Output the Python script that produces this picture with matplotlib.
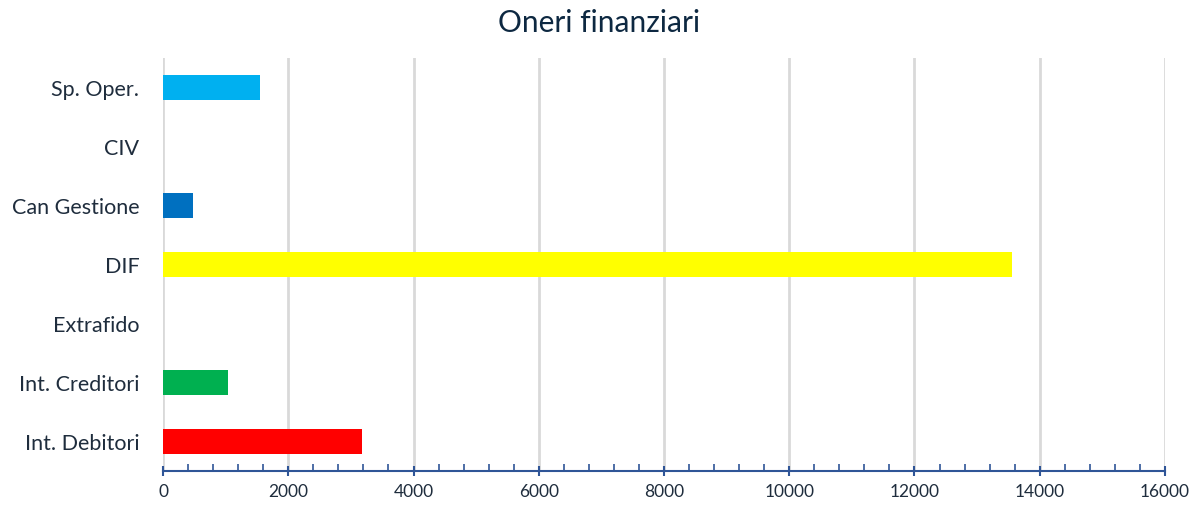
import matplotlib.pyplot as plt
import numpy as np
from matplotlib.ticker import MultipleLocator

# categories from bottom to top
categories = ['Int. Debitori', 'Int. Creditori', 'Extrafido', 'DIF', 'Can Gestione', 'CIV', 'Sp. Oper.']
values = [3180, 1030, 0, 13560, 484, 0, 1553]
colors = ['#FF0000', '#00B050', '#FFFFFF', '#FFFF00', '#0070C0', '#FFFFFF', '#00B0F0']

plt.rcParams['font.family'] = ['Lato', 'DejaVu Sans']

fig = plt.figure(figsize=(11.99, 5.07), dpi=100)
ax = fig.add_axes([0.136, 0.071, 0.8356, 0.8146])

y = np.arange(len(categories))
ax.barh(y, values, height=0.41, color=colors, zorder=3)

ax.set_xlim(0, 16000)
ax.set_ylim(-0.5, len(categories) - 0.5)
ax.set_yticks(y)
ax.set_yticklabels(categories, fontsize=15.5, color='#1F2D3D')
ax.xaxis.set_major_locator(MultipleLocator(2000))
ax.xaxis.set_minor_locator(MultipleLocator(400))
ax.tick_params(axis='x', which='major', direction='inout', length=7, width=1.5,
               color='#2F5597', labelsize=12.5, labelcolor='#1F2D3D', pad=6)
ax.tick_params(axis='x', which='minor', direction='in', length=5, width=1.2, color='#2F5597')
ax.tick_params(axis='y', length=0, pad=17)

ax.grid(axis='x', which='major', color='#D9D9D9', linewidth=2, zorder=0)
for s in ['top', 'right', 'left']:
    ax.spines[s].set_visible(False)
ax.spines['bottom'].set_color('#2F5597')
ax.spines['bottom'].set_linewidth(1.5)

fig.text(0.5, 0.955, 'Oneri finanziari', ha='center', va='center', fontsize=21.5, color='#0D2841')

fig.savefig('out.png', dpi=100)
